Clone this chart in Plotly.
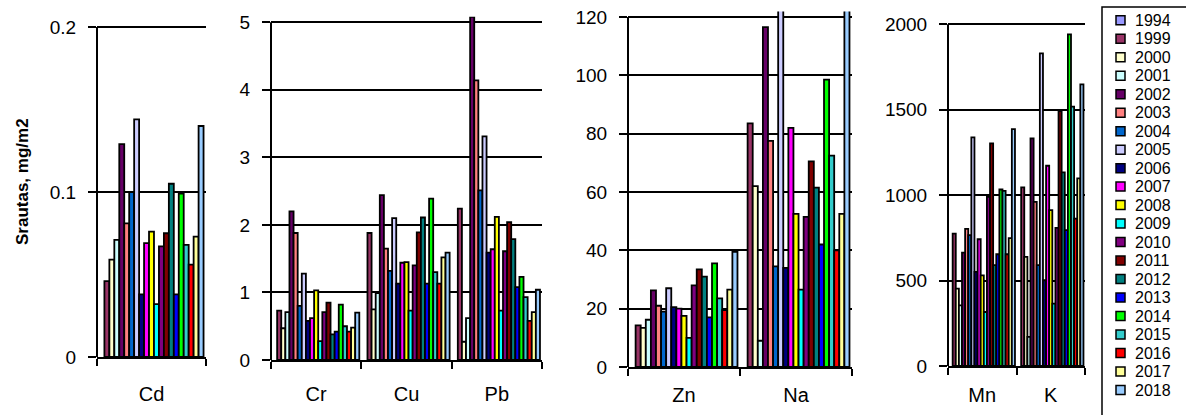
import plotly.graph_objects as go

W, H = 1186, 415

years = ["1994", "1999", "2000", "2001", "2002", "2003", "2004", "2005", "2006",
         "2007", "2008", "2009", "2010", "2011", "2012", "2013", "2014", "2015",
         "2016", "2017", "2018"]
colors = ["#9999FF", "#993366", "#FFFFCC", "#CCFFFF", "#660066", "#FF8080", "#0066CC",
          "#CCCCFF", "#000080", "#FF00FF", "#FFFF00", "#00FFFF", "#800080", "#800000",
          "#008080", "#0000FF", "#00FF00", "#33CCCC", "#FF0000", "#FFFF99", "#99CCFF"]

# values per element, in the order of `years` (1994 has no data)
Cd = [None, 0.046, 0.059, 0.071, 0.129, 0.081, 0.100, 0.144, 0.038, 0.069, 0.076,
      0.032, 0.067, 0.075, 0.105, 0.038, 0.099, 0.068, 0.056, 0.073, 0.140]
Cr = [None, 0.73, 0.47, 0.71, 2.20, 1.88, 0.80, 1.28, 0.58, 0.62, 1.03,
      0.28, 0.71, 0.85, 0.38, 0.42, 0.82, 0.50, 0.42, 0.48, 0.70]
Cu = [None, 1.88, 0.75, 0.99, 2.44, 1.65, 1.32, 2.10, 1.13, 1.44, 1.45,
      0.73, 1.40, 1.89, 2.11, 1.13, 2.39, 1.30, 1.13, 1.52, 1.59]
Pb = [None, 2.24, 0.27, 0.62, 5.08, 4.14, 2.51, 3.31, 1.59, 1.64, 2.12,
      0.73, 1.61, 2.04, 1.79, 1.08, 1.23, 0.93, 0.58, 0.71, 1.04]
Zn = [None, 14.3, 13.4, 16.2, 26.3, 21.0, 19.0, 27.0, 20.5, 20.0, 17.5,
      10.0, 28.0, 33.5, 31.0, 17.0, 35.5, 23.5, 19.5, 26.5, 39.5]
Na = [None, 83.5, 62.0, 9.0, 116.5, 77.5, 34.5, 125.0, 34.0, 82.0, 52.5,
      26.5, 51.5, 70.5, 61.5, 42.0, 98.5, 72.5, 40.0, 52.5, 125.0]
Mn = [None, 775, 453, 355, 664, 803, 766, 1338, 551, 742, 531,
      316, 990, 1303, 590, 654, 1033, 1025, 654, 748, 1387]
K = [None, 1045, 639, 170, 1332, 961, 590, 1830, 502, 1172, 912,
     365, 809, 1492, 1133, 795, 1941, 1518, 863, 1098, 1648]

data = {"Cd": Cd, "Cr": Cr, "Cu": Cu, "Pb": Pb, "Zn": Zn, "Na": Na, "Mn": Mn, "K": K}

groups = [["Cd"], ["Cr", "Cu", "Pb"], ["Zn", "Na"], ["Mn", "K"]]
y_max = [0.2, 5, 120, 2000]
y_step = [0.1, 1, 20, 500]
y_ticktext = [["0", "0.1", "0.2"], None, None, None]
y_title = "Srautas, mg/m2"

# layout geometry in pixels
panel_x = [(97, 206), (271, 542), (628, 852), (948, 1085)]   # left/right of plot areas
panel_zero = [357, 360, 367, 366]                             # pixel row of y=0
panel_top = [27, 22.3, 17, 24.3]                              # pixel row of y=max
clip_extra = 5.5                                              # bars drawn a little above the top line
x_standoff = [18, 15, 9, 10]

FONT = "Liberation Sans, Arial, sans-serif"

fig = go.Figure()
layout = dict(
    template="none",
    width=W, height=H, margin=dict(l=0, r=0, t=0, b=0, pad=0, autoexpand=False),
    paper_bgcolor="white", plot_bgcolor="white",
    barmode="group", bargap=0.045, bargroupgap=0,
    showlegend=False, font=dict(family=FONT, size=19, color="black"),
)
shapes = []
annotations = []

for p, cats in enumerate(groups):
    xa = "x" if p == 0 else f"x{p+1}"
    ya = "y" if p == 0 else f"y{p+1}"
    for i, yr in enumerate(years):
        fig.add_trace(go.Bar(
            x=cats, y=[data[c][i] for c in cats], name=yr,
            marker=dict(color=colors[i], line=dict(color="black", width=1.8)),
            xaxis=xa, yaxis=ya, showlegend=False,
        ))
    x0, x1 = panel_x[p]
    zero, top = panel_zero[p], panel_top[p]
    unit = (zero - top) / y_max[p]
    rng_top = y_max[p] + clip_extra / unit
    top_px = zero - rng_top * unit
    n = int(round(y_max[p] / y_step[p]))
    tv = [round(k * y_step[p], 6) for k in range(n + 1)]
    xkey = "xaxis" if p == 0 else f"xaxis{p+1}"
    ykey = "yaxis" if p == 0 else f"yaxis{p+1}"
    layout[xkey] = dict(
        domain=[x0 / W, x1 / W], anchor=ya, type="category", automargin=False,
        showline=True, linecolor="black", linewidth=2,
        ticks="outside", tickson="boundaries", ticklen=7, tickwidth=2, tickcolor="black",
        showgrid=False, zeroline=False, ticklabelstandoff=x_standoff[p],
        tickfont=dict(family=FONT, size=20, color="black"), fixedrange=True,
    )
    yax = dict(
        domain=[(H - zero) / H, (H - top_px) / H], anchor=xa, automargin=False,
        range=[0, rng_top], tickvals=tv,
        showline=False, zeroline=False,
        showgrid=True, gridcolor="black", gridwidth=2,
        ticks="outside", ticklen=8, tickwidth=2, tickcolor="black",
        ticklabelstandoff=8,
        tickfont=dict(family=FONT, size=19, color="black"), fixedrange=True,
    )
    if y_ticktext[p]:
        yax["ticktext"] = y_ticktext[p]
    layout[ykey] = yax
    # vertical value axis line, from 0 up to the top gridline
    shapes.append(dict(type="line", xref=f"{xa} domain", yref=ya,
                       x0=0, x1=0, y0=0, y1=y_max[p],
                       line=dict(color="black", width=2)))

# y axis title
annotations.append(dict(text=f"<b>{y_title}</b>", x=22 / W, y=1 - 182 / H,
                        xref="paper", yref="paper", textangle=-90, showarrow=False,
                        xanchor="center", yanchor="middle",
                        font=dict(family=FONT, size=17, color="black")))

# legend: box, swatches and one multi-line label block
ROW = 18.48
FIRST = 20.3
LEG_FONT = 16
shapes.append(dict(type="rect", xref="paper", yref="paper",
                   x0=1102 / W, x1=1196 / W, y0=1 - 425 / H, y1=1 - 7 / H,
                   line=dict(color="black", width=1.5), fillcolor="rgba(0,0,0,0)"))
for i, yr in enumerate(years):
    cy = FIRST + i * ROW
    shapes.append(dict(type="rect", xref="paper", yref="paper",
                       x0=1116 / W, x1=1125 / W, y0=1 - (cy + 4.5) / H, y1=1 - (cy - 4.5) / H,
                       line=dict(color="black", width=1.5), fillcolor=colors[i]))
legend_text = "<br>".join(f'<span style="font-size:{LEG_FONT}px">{yr}</span>' for yr in years)
annotations.append(dict(text=legend_text, x=1133 / W, y=1 - (FIRST + ROW * (len(years) - 1) / 2) / H,
                        xref="paper", yref="paper", xanchor="left", yanchor="middle",
                        align="left", showarrow=False,
                        font=dict(family=FONT, size=ROW / 1.3, color="black")))

layout["shapes"] = shapes
layout["annotations"] = annotations
fig.update_layout(**layout)
fig.write_html("out.html")
